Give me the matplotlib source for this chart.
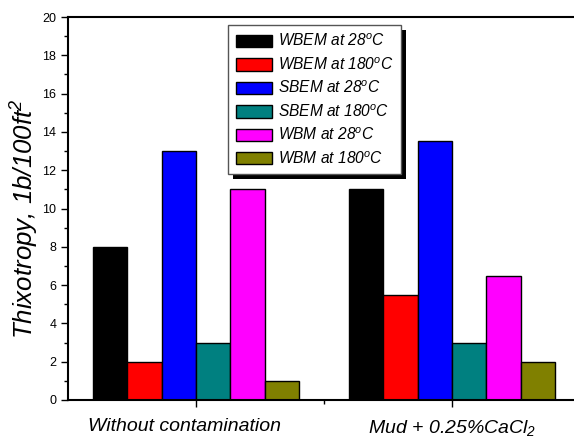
import matplotlib
matplotlib.use('Agg')
import matplotlib.pyplot as plt
from matplotlib.patches import Rectangle
from matplotlib.ticker import MultipleLocator, FixedLocator
from matplotlib.transforms import IdentityTransform, ScaledTranslation
import numpy as np

plt.rcParams['font.family'] = ['Liberation Sans', 'DejaVu Sans']
plt.rcParams['mathtext.fontset'] = 'custom'
plt.rcParams['mathtext.rm'] = 'Liberation Sans:italic'
plt.rcParams['mathtext.it'] = 'Liberation Sans:italic'

groups = ['Without contamination', 'Mud + 0.25%CaCl$_2$']
series = ['WBEM at 28$^o$C', 'WBEM at 180$^o$C', 'SBEM at 28$^o$C',
          'SBEM at 180$^o$C', 'WBM at 28$^o$C', 'WBM at 180$^o$C']
colors = ['#000000', '#ff0000', '#0000ff', '#008080', '#ff00ff', '#808000']
values = [
    [8, 11],
    [2, 5.5],
    [13, 13.5],
    [3, 3],
    [11, 6.5],
    [1, 2],
]

fig = plt.figure(figsize=(5.74, 4.38), dpi=100)
ax = fig.add_axes([68 / 574, 38 / 438, 512 / 574, 383 / 438])

x = np.arange(len(groups))
w = 0.134
for i, (name, vals) in enumerate(zip(series, values)):
    ax.bar(x + (i - 2.5) * w, vals, w, color=colors[i], edgecolor='black',
           linewidth=1.0, label=name)

ax.set_xlim(-0.5, 1.5)
ax.set_ylim(0, 20)
ax.yaxis.set_major_locator(MultipleLocator(2))
ax.yaxis.set_minor_locator(MultipleLocator(1))
ax.set_xticks(x)
ax.set_xticklabels(groups, fontsize=14, style='italic')
ax.xaxis.set_minor_locator(FixedLocator([0.5]))
ax.tick_params(axis='y', labelsize=9, direction='out', length=5, width=1)
ax.tick_params(axis='y', which='minor', direction='out', length=3, width=1)
ax.tick_params(axis='x', direction='out', length=5, width=1, pad=8)
ax.tick_params(axis='x', which='minor', direction='out', length=3, width=1)
for s in ['left', 'bottom', 'top']:
    ax.spines[s].set_linewidth(1.5)
ax.spines['right'].set_visible(False)

# first group label sits a bit left of its tick in the original
lbl = ax.get_xticklabels()[0]
lbl.set_transform(lbl.get_transform() +
                  ScaledTranslation(-11 / 100, 0, fig.dpi_scale_trans))

ax.set_ylabel('Thixotropy, 1b/100ft$^2$', fontsize=18.6, style='italic')
ax.yaxis.set_label_coords(-0.052, 0.473)

leg = ax.legend(loc='upper left', bbox_to_anchor=(228 / 574, 1 - 25 / 438),
                bbox_transform=fig.transFigure, borderaxespad=0,
                prop={'style': 'italic', 'size': 11.2},
                handlelength=2.3, handleheight=0.85, labelspacing=0.44,
                handletextpad=0.4, borderpad=0.5, fancybox=False,
                edgecolor='#555555', framealpha=1)
leg.get_frame().set_linewidth(1.0)

# black drop shadow behind the legend box
fig.canvas.draw()
bb = leg.get_window_extent()
ax.add_patch(Rectangle((bb.x0 + 5, bb.y0 - 5), bb.width, bb.height,
                       transform=IdentityTransform(), facecolor='black',
                       edgecolor='none', zorder=4.9, clip_on=False))

fig.savefig('out.png', dpi=100)
